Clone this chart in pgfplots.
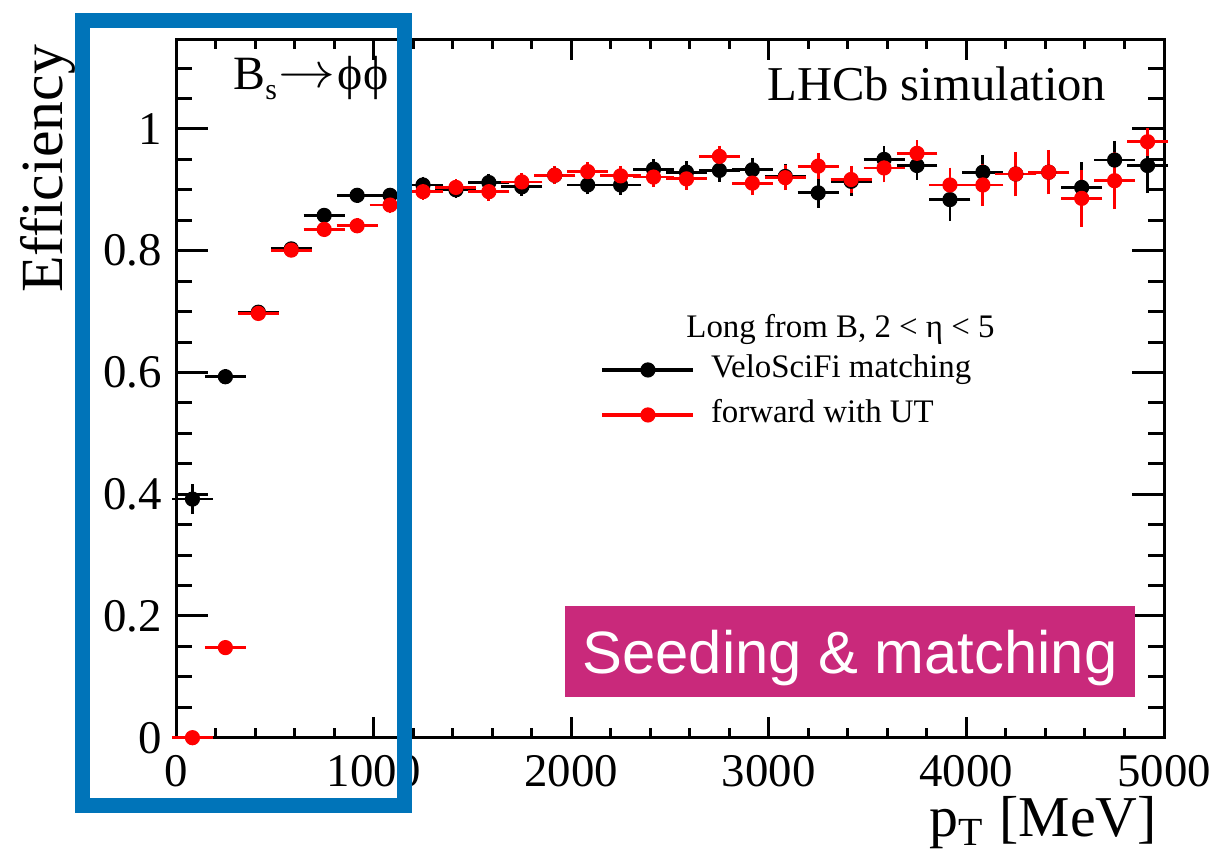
\documentclass[border=0pt]{standalone}
\usepackage{fontspec}
\setmainfont{Liberation Serif}
\newfontfamily\ticksfont{Liberation Serif}
\newfontfamily\tagsans{Liberation Sans}
\usepackage{pgfplots}
\usepackage{pgfplotstable}
\pgfplotsset{compat=1.18}

\definecolor{boxblue}{RGB}{0,116,185}
\definecolor{tagmagenta}{RGB}{201,41,123}

% pT bin centres, half bin widths, efficiencies and their uncertainties
% yb: VeloSciFi matching, yr: forward with UT
\pgfplotstableread{
x        ex      yb     eyb    yr     eyr
83.33    83.33   0.392  0.018  0.000  0.002
250.00   83.33   0.593  0.006  0.148  0.005
416.67   83.33   0.699  0.005  0.697  0.005
583.33   83.33   0.803  0.005  0.801  0.005
750.00   83.33   0.858  0.006  0.835  0.006
916.67   83.33   0.891  0.006  0.841  0.006
1083.33  83.33   0.891  0.006  0.875  0.007
1250.00  83.33   0.908  0.007  0.897  0.007
1416.67  83.33   0.900  0.007  0.904  0.007
1583.33  83.33   0.912  0.008  0.897  0.008
1750.00  83.33   0.905  0.008  0.913  0.008
1916.67  83.33   0.924  0.008  0.924  0.008
2083.33  83.33   0.908  0.009  0.930  0.009
2250.00  83.33   0.908  0.010  0.923  0.010
2416.67  83.33   0.934  0.010  0.921  0.010
2583.33  83.33   0.929  0.011  0.918  0.011
2750.00  83.33   0.932  0.012  0.955  0.011
2916.67  83.33   0.933  0.013  0.911  0.013
3083.33  83.33   0.922  0.014  0.920  0.014
3250.00  83.33   0.895  0.018  0.939  0.015
3416.67  83.33   0.914  0.017  0.917  0.016
3583.33  83.33   0.950  0.015  0.936  0.017
3750.00  83.33   0.940  0.017  0.960  0.015
3916.67  83.33   0.884  0.028  0.908  0.022
4083.33  83.33   0.929  0.022  0.908  0.028
4250.00  83.33   0.926  0.025  0.926  0.030
4416.67  83.33   0.929  0.026  0.929  0.030
4583.33  83.33   0.904  0.035  0.886  0.040
4750.00  83.33   0.949  0.025  0.915  0.040
4916.67  83.33   0.940  0.039  0.979  0.016
}\efftable

\begin{document}
\begin{tikzpicture}
\path[use as bounding box] (0,0) rectangle (612.5bp,426.5bp);
\begin{axis}[
  at={(88bp,57.65bp)}, anchor=south west,
  scale only axis, width=494bp, height=349.1bp,
  xmin=0, xmax=5000, ymin=0, ymax=1.147,
  clip=false,
  xtick={0,1000,2000,3000,4000,5000},
  minor xtick={200,400,600,800,1200,1400,1600,1800,2200,2400,2600,2800,3200,3400,3600,3800,4200,4400,4600,4800},
  ytick={0,0.2,0.4,0.6,0.8,1},
  minor ytick={0.05,0.1,0.15,0.25,0.3,0.35,0.45,0.5,0.55,0.65,0.7,0.75,0.85,0.9,0.95,1.05,1.1},
  tick align=inside,
  axis line style={line width=1.5bp},
  every tick/.style={black, line width=1.5bp},
  xtick style={/pgfplots/major tick length=10.5bp, /pgfplots/minor tick length=5bp},
  ytick style={/pgfplots/major tick length=16bp, /pgfplots/minor tick length=8bp},
  scaled ticks=false,
  xticklabel={\ticksfont\fontsize{23.5}{28}\selectfont\pgfmathprintnumber[assume math mode=true,1000 sep={}]{\tick}},
  yticklabel={\ticksfont\fontsize{23.5}{28}\selectfont\pgfmathprintnumber[assume math mode=true]{\tick}},
  yticklabel style={anchor=east, inner sep=0pt, xshift=-7bp},
  xticklabel style={anchor=north, inner sep=0pt, yshift=-8.5bp},
  xlabel={p\raisebox{-4.5bp}{\fontsize{20}{20}\selectfont T}\hspace{0.3em}[MeV]},
  every axis x label/.style={at={(axis description cs:1,-0.142)}, anchor=base east, font=\fontsize{29}{34}\selectfont},
  ylabel={Efficiency},
  every axis y label/.style={at={(axis description cs:-0.1144,1.002)}, rotate=90, anchor=base east, font=\fontsize{30}{36}\selectfont},
  legend image code/.code={
    \draw[#1, sharp plot, mark repeat=2, mark phase=2, line width=1.6bp]
      plot coordinates {(0bp,0bp) (22.75bp,0bp) (45.5bp,0bp)};
  },
  legend cell align=left,
  legend style={at={(axis description cs:0.430,0.5496)}, anchor=north west,
    draw=none, fill=none, inner sep=0pt, outer sep=0pt,
    font=\fontsize{16.5}{20}\selectfont, row sep=6.5bp, column sep=8bp,
    nodes={inner sep=0pt, text height=12bp, text depth=4bp}},
]
\addplot[black, mark=*, only marks, mark size=3.5bp, mark options={line width=0.6bp},
  error bars/.cd, x dir=both, x explicit, y dir=both, y explicit,
  error bar style={line width=1.4bp, black},
  error mark options={line width=1.4bp, mark size=2bp, black}]
  table[x=x, y=yb, x error=ex, y error=eyb]{\efftable};
\addlegendentry{VeloSciFi matching}
\addplot[red, mark=*, only marks, mark size=3.5bp, mark options={line width=0.6bp},
  error bars/.cd, x dir=both, x explicit, y dir=both, y explicit,
  error bar style={line width=1.4bp, red},
  error mark options={line width=1.4bp, mark size=2bp, red}]
  table[x=x, y=yr, x error=ex, y error=eyr]{\efftable};
\addlegendentry{forward with UT}

\node[anchor=base west, inner sep=0pt, font=\fontsize{16.5}{20}\selectfont]
  at (axis description cs:0.5162,0.5739) {Long from B, 2 < η < 5};
\node[anchor=base east, inner sep=0pt, font=\fontsize{24.4}{29}\selectfont]
  at (axis description cs:0.942,0.9133) {LHCb simulation};
\node[anchor=base west, inner sep=0pt, font=\fontsize{24}{29}\selectfont]
  at (axis description cs:0.0577,0.9277)
  {B\raisebox{-5bp}{\fontsize{15}{15}\selectfont s}\kern1bp\raisebox{1bp}{\scalebox{1.15}[1]{$\rightarrow$}}\kern1bp\char"03D5\char"03D5};
\end{axis}

% highlighted method tag
\fill[tagmagenta] (282.5bp,78bp) rectangle (567.5bp,123.5bp);
\node[anchor=base, inner sep=0pt, text=white, font=\tagsans\fontsize{30}{36}\selectfont]
  at (425bp,89.5bp) {Seeding \& matching};

% frame around the low-pT region
\draw[boxblue, line width=7.5bp] (41.25bp,23.75bp) rectangle (202.25bp,416.25bp);
\end{tikzpicture}
\end{document}
